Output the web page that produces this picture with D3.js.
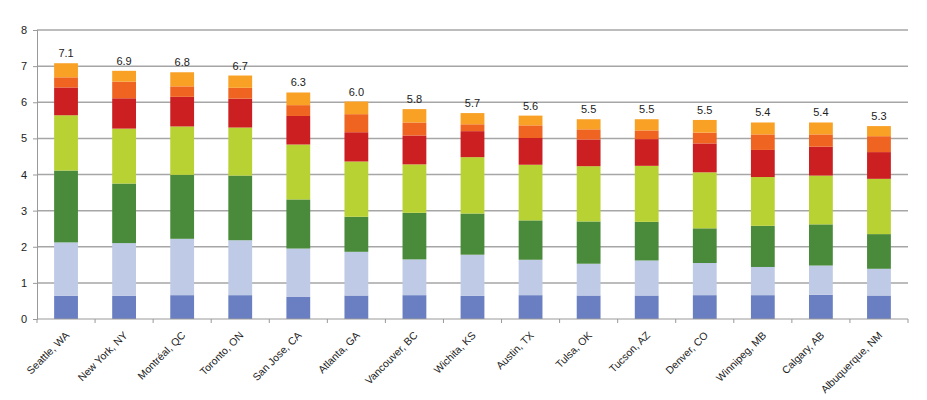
<!DOCTYPE html>
<html>
<head>
<meta charset="utf-8">
<script src="https://cdn.jsdelivr.net/npm/d3@7"></script>
<style>
html,body{margin:0;padding:0;background:#fff;}
svg text{font-family:"Liberation Sans",Arial,sans-serif;}
</style>
</head>
<body>
<svg id="chart" width="927" height="400"></svg>
<script>
const cities = ["Seattle, WA","New York, NY","Montréal, QC","Toronto, ON","San Jose, CA","Atlanta, GA","Vancouver, BC","Wichita, KS","Austin, TX","Tulsa, OK","Tucson, AZ","Denver, CO","Winnipeg, MB","Calgary, AB","Albuquerque, NM"];
const seriesNames = ["s1","s2","s3","s4","s5","s6","s7"];
const s1 = [0.64,0.64,0.66,0.66,0.61,0.65,0.66,0.64,0.66,0.65,0.65,0.66,0.66,0.67,0.65];
const s2 = [1.48,1.46,1.56,1.52,1.34,1.21,0.99,1.14,0.98,0.88,0.97,0.89,0.78,0.81,0.74];
const s3 = [1.99,1.65,1.77,1.79,1.36,0.97,1.29,1.14,1.09,1.17,1.07,0.96,1.14,1.14,0.96];
const s4 = [1.53,1.52,1.34,1.33,1.52,1.53,1.34,1.56,1.54,1.53,1.55,1.55,1.35,1.35,1.53];
const s5 = [0.77,0.84,0.82,0.80,0.79,0.81,0.80,0.72,0.74,0.74,0.74,0.80,0.75,0.80,0.74];
const s6 = [0.28,0.46,0.29,0.30,0.30,0.50,0.36,0.19,0.35,0.28,0.24,0.30,0.43,0.34,0.44];
const s7 = [0.39,0.30,0.39,0.34,0.35,0.35,0.37,0.31,0.27,0.28,0.31,0.35,0.33,0.33,0.28];
const yTicks = [0,1,2,3,4,5,6,7,8];
const colors = ["#6A7FC2","#BFCAE7","#4A8B3B","#B9D233","#CC1F21","#EF6421","#F8A124"];

const series = [s1,s2,s3,s4,s5,s6,s7];
const table = cities.map((c,i)=>{
  const row = {city:c};
  seriesNames.forEach((n,k)=>row[n]=series[k][i]);
  return row;
});
const stacked = d3.stack().keys(seriesNames)(table);

const svg = d3.select("#chart");
const margin = {left:37, right:19, top:30, bottom:81};
const W = 927, H = 400;
const x = d3.scaleBand().domain(cities).range([margin.left, W-margin.right]).paddingInner(0.59).paddingOuter(0.295);
const xb = d3.scaleBand().domain(cities).range([margin.left, W-margin.right]);
const y = d3.scaleLinear().domain([0,8]).range([H-margin.bottom, margin.top]);

// gridlines
svg.append("g").selectAll("line").data(yTicks.filter(t=>t>0)).join("line")
  .attr("x1", margin.left).attr("x2", W-margin.right)
  .attr("y1", d=>y(d)).attr("y2", d=>y(d))
  .attr("stroke","#a6a6a6").attr("stroke-width",1.5);

// y axis
const yAxis = d3.axisLeft(y).tickValues(yTicks).tickSize(4).tickPadding(6).tickFormat(d3.format("d"));
const gy = svg.append("g").attr("transform",`translate(${margin.left},0)`).call(yAxis);
gy.select(".domain").attr("stroke","#999").attr("stroke-width",1);
gy.selectAll(".tick line").attr("stroke","#999");
gy.selectAll(".tick text").attr("font-size",11).attr("fill","#222");

// bars
svg.append("g").selectAll("g").data(stacked).join("g")
  .attr("fill",(d,i)=>colors[i])
  .selectAll("rect").data(d=>d).join("rect")
  .attr("x", d=>x(d.data.city))
  .attr("width", x.bandwidth())
  .attr("y", d=>y(d[1]))
  .attr("height", d=>y(d[0])-y(d[1]));

// x axis
const gx = svg.append("g").attr("transform",`translate(0,${H-margin.bottom})`);
gx.append("line").attr("x1",margin.left).attr("x2",W-margin.right).attr("y1",0).attr("y2",0)
  .attr("stroke","#999").attr("stroke-width",1);
const bounds = cities.map(c=>xb(c)).concat([W-margin.right]);
gx.selectAll("line.tk").data(bounds).join("line").attr("class","tk")
  .attr("x1",d=>d).attr("x2",d=>d).attr("y1",0).attr("y2",4).attr("stroke","#999");
gx.selectAll("text").data(cities).join("text")
  .attr("transform", c=>`translate(${x(c)+x.bandwidth()/2+4},${17}) rotate(-45)`)
  .attr("text-anchor","end")
  .attr("font-size",10.5)
  .attr("fill","#222")
  .text(c=>c);

// totals
const totals = table.map(r=>d3.sum(seriesNames, n=>r[n]));
svg.append("g").selectAll("text").data(cities).join("text")
  .attr("x", (c)=>x(c)+x.bandwidth()/2)
  .attr("y", (c,i)=>y(totals[i])-6)
  .attr("text-anchor","middle")
  .attr("font-size",11)
  .attr("fill","#222")
  .text((c,i)=>d3.format(".1f")(totals[i]));
</script>
</body>
</html>
